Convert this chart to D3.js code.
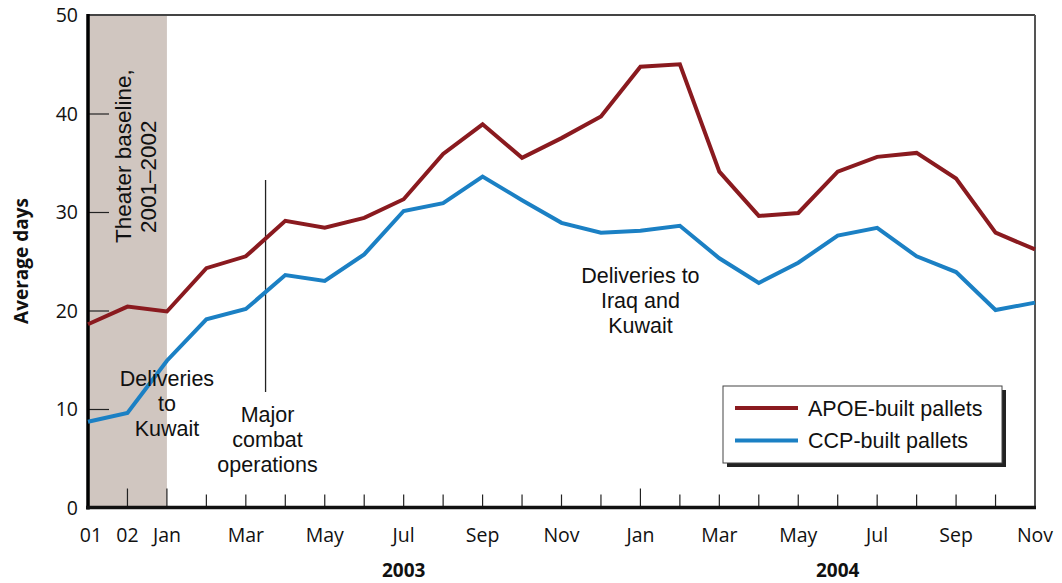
<!DOCTYPE html>
<html><head><meta charset="utf-8">
<script src="https://cdn.jsdelivr.net/npm/d3@7"></script>
<style>
body{margin:0;background:#fff;}
text{font-family:"Open Sans","Noto Sans",sans-serif;fill:#111;}
text.ann{font-family:"Liberation Sans",Arial,sans-serif;}
</style></head>
<body><svg id="c" width="1062" height="583"></svg>
<script>
const months = ["01","02","Jan","Feb","Mar","Apr","May","Jun","Jul","Aug","Sep","Oct","Nov","Dec",
                "Jan","Feb","Mar","Apr","May","Jun","Jul","Aug","Sep","Oct","Nov"];
const tickLabels = ["01","02","Jan","","Mar","","May","","Jul","","Sep","","Nov","",
                    "Jan","","Mar","","May","","Jul","","Sep","","Nov"];
const apoe = [18.6,20.4,19.9,24.3,25.5,29.1,28.4,29.4,31.3,35.9,38.9,35.5,37.5,39.7,
              44.75,45.0,34.1,29.6,29.9,34.1,35.6,36.0,33.4,27.9,26.2];
const ccp = [8.7,9.6,14.9,19.1,20.15,23.6,23.0,25.7,30.1,30.9,33.6,31.2,28.9,27.9,
             28.1,28.6,25.3,22.8,24.85,27.6,28.4,25.5,23.9,20.05,20.8];
const yTicks = [0,10,20,30,40,50];
const seriesNames = ["APOE-built pallets","CCP-built pallets"];
const years = [{label:"2003", at:8},{label:"2004", at:19}];

const svg = d3.select("#c");
const L=88, R=1035, T=15, B=507.5;
const x = d3.scaleLinear().domain([0, months.length-1]).range([L,R]);
const y = d3.scaleLinear().domain([0,50]).range([B,T]);
const red="#8a1a1f", blue="#1b80c4";

// shaded baseline
svg.append("rect").attr("x",x(0)).attr("y",y(50)).attr("width",x(2)-x(0)).attr("height",y(0)-y(50)).attr("fill","#d0c6c0");

// frame top / right
svg.append("line").attr("x1",L).attr("x2",R).attr("y1",y(50)).attr("y2",y(50)).attr("stroke","#444").attr("stroke-width",2);
svg.append("line").attr("x1",R).attr("x2",R).attr("y1",y(50)).attr("y2",B).attr("stroke","#555").attr("stroke-width",2);

// y ticks (inside)
const yAxis = svg.append("g").attr("transform",`translate(${L},0)`)
  .call(d3.axisRight(y).tickValues(yTicks).tickSize(21).tickFormat(""));
yAxis.select(".domain").remove();
yAxis.selectAll("line").attr("stroke","#222").attr("stroke-width",1.2);
yAxis.selectAll(".tick").filter(d=>d===0||d===50).remove();
svg.append("g").selectAll("text").data(yTicks).join("text")
  .attr("x",78).attr("y",d=>y(d)).attr("dy","0.36em").attr("text-anchor","end")
  .attr("font-size",19.5).text(d=>d);

// x ticks (inside, upward)
const idx = d3.range(months.length);
svg.append("g").selectAll("line").data(idx.filter(i=>i>0&&i<months.length-1)).join("line")
  .attr("x1",i=>x(i)).attr("x2",i=>x(i)).attr("y1",B)
  .attr("y2",i=>B-((i===1||i===2||i===14)?19:13))
  .attr("stroke","#222").attr("stroke-width",1.2);
svg.append("g").selectAll("text").data(idx.filter(i=>tickLabels[i]!=="")).join("text")
  .attr("x",i=>x(i)+(i===0?3:0)).attr("y",542).attr("text-anchor","middle")
  .attr("font-size",19.5).text(i=>tickLabels[i]);
svg.append("g").selectAll("text").data(years).join("text")
  .attr("x",d=>x(d.at)).attr("y",577).attr("text-anchor","middle")
  .attr("font-size",19).attr("font-weight","bold").text(d=>d.label);

// axes lines
svg.append("line").attr("x1",L).attr("x2",L).attr("y1",y(50)-1).attr("y2",B+2).attr("stroke","#000").attr("stroke-width",3.5);
svg.append("line").attr("x1",L-2).attr("x2",R+1).attr("y1",B).attr("y2",B).attr("stroke","#111").attr("stroke-width",3.5);

// y label
svg.append("text").attr("transform","translate(28,261) rotate(-90)").attr("text-anchor","middle")
  .attr("font-size",19).attr("font-weight","bold").text("Average days");

// major combat line
svg.append("line").attr("x1",x(4.5)).attr("x2",x(4.5)).attr("y1",180).attr("y2",392).attr("stroke","#222").attr("stroke-width",1.3);

// series lines
const line = d3.line().x((d,i)=>x(i)).y(d=>y(d));
svg.append("path").datum(ccp).attr("d",line).attr("fill","none").attr("stroke",blue).attr("stroke-width",4).attr("stroke-linejoin","miter");
svg.append("path").datum(apoe).attr("d",line).attr("fill","none").attr("stroke",red).attr("stroke-width",4).attr("stroke-linejoin","miter");

// annotations
const AF = 21.5;
const tb = svg.append("text").attr("class","ann").attr("transform",`translate(${131},243) rotate(-90)`).attr("font-size",22.5);
tb.append("tspan").attr("x",0).attr("y",0).text("Theater baseline,");
tb.append("tspan").attr("x",10).attr("y",25).text("2001–2002");

function multi(lines, cx, y0){
  const t = svg.append("text").attr("class","ann").attr("text-anchor","middle").attr("font-size",AF);
  lines.forEach((s,i)=>t.append("tspan").attr("x",cx).attr("y",y0+i*25).text(s));
}
multi(["Deliveries","to","Kuwait"], x(2), 386);
multi(["Major","combat","operations"], x(4.5)+2, 422);
multi(["Deliveries to","Iraq and","Kuwait"], x(14), 283);

// legend
const lg = svg.append("g");
lg.append("rect").attr("x",727).attr("y",390).attr("width",279).attr("height",77).attr("fill","#222");
lg.append("rect").attr("x",723).attr("y",386).attr("width",279).attr("height",77).attr("fill","#fff").attr("stroke","#444").attr("stroke-width",1);
[red,blue].forEach((c,i)=>{
  const yy = 408 + i*32.5;
  lg.append("line").attr("x1",735).attr("x2",798).attr("y1",yy).attr("y2",yy).attr("stroke",c).attr("stroke-width",4);
  lg.append("text").attr("class","ann").attr("x",808).attr("y",yy).attr("dy","0.36em").attr("font-size",AF).text(seriesNames[i]);
});
</script></body></html>
